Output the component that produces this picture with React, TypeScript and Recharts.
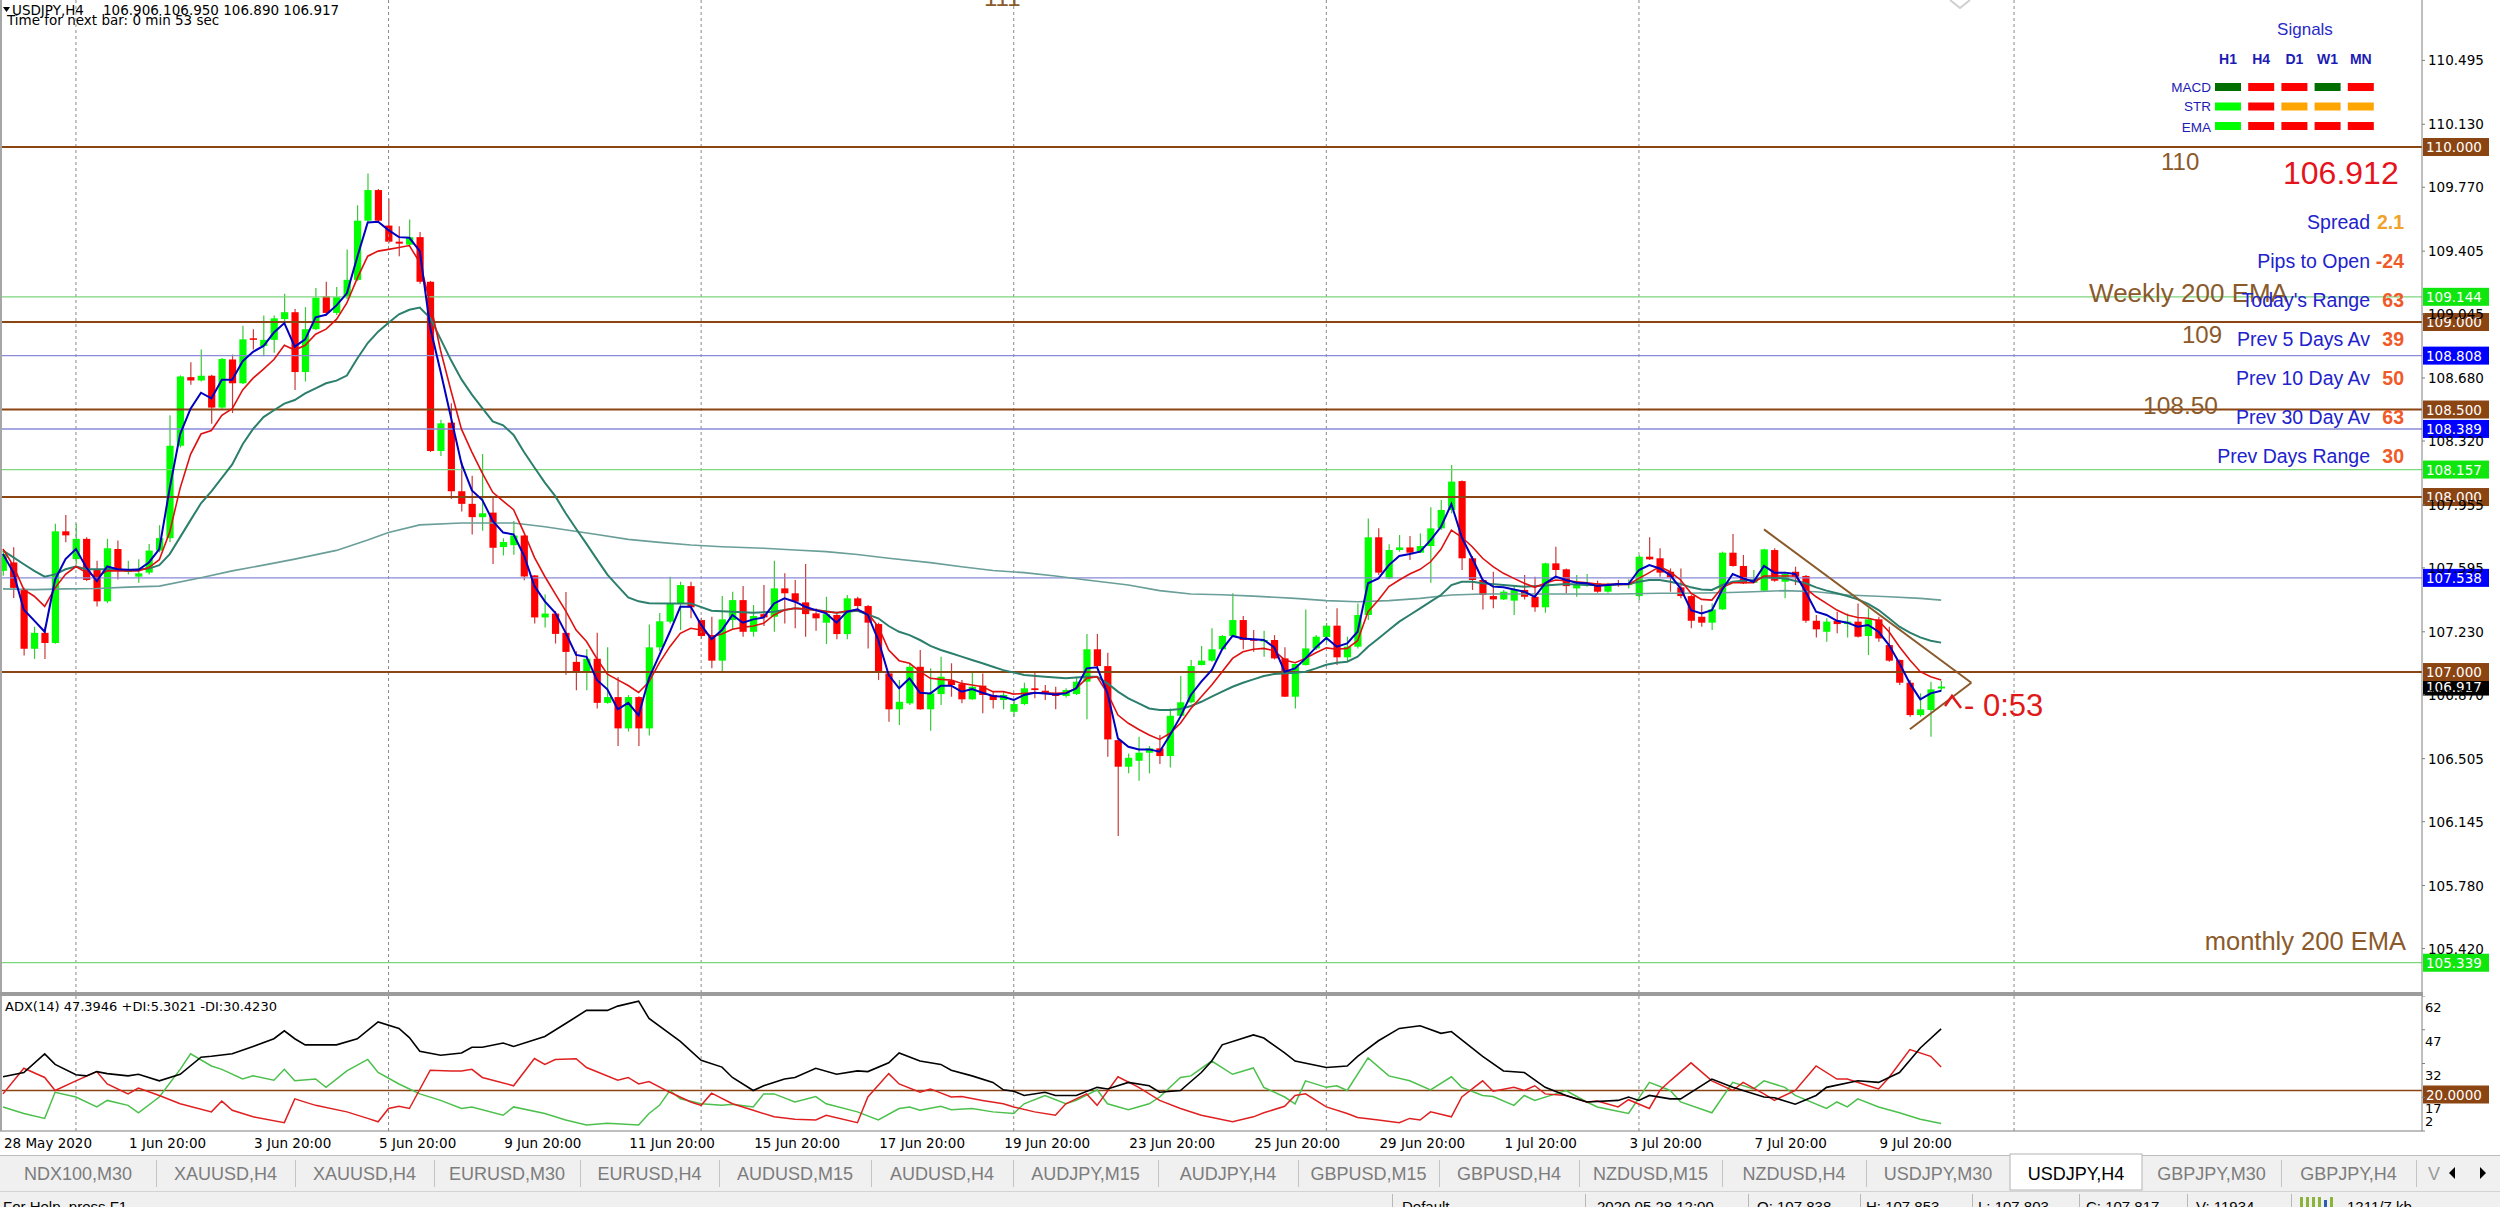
import React from 'react';
import { ComposedChart, Bar, Line, XAxis, YAxis, ReferenceLine } from 'recharts';

// USDJPY H4 candles, first visible bar 28 May 2020: [open, high, low, close]
const ohlc: [number, number, number, number][] = [
  // 0
  [107.578, 107.700, 107.550, 107.674], [107.626, 107.713, 107.423, 107.481], [107.471, 107.481, 107.095, 107.133],
  [107.133, 107.259, 107.075, 107.224], [107.224, 107.259, 107.075, 107.166], [107.166, 107.848, 107.162, 107.804],
  [107.804, 107.897, 107.742, 107.781], [107.645, 107.848, 107.616, 107.761], [107.761, 107.770, 107.520, 107.526],
  [107.587, 107.636, 107.375, 107.404],
  // 10
  [107.404, 107.761, 107.394, 107.707], [107.703, 107.752, 107.529, 107.578], [107.572, 107.636, 107.558, 107.587],
  [107.545, 107.645, 107.510, 107.564], [107.568, 107.732, 107.558, 107.694], [107.694, 107.839, 107.684, 107.765],
  [107.765, 108.467, 107.742, 108.293], [108.293, 108.695, 108.283, 108.689], [108.685, 108.770, 108.641, 108.666],
  [108.666, 108.843, 108.660, 108.693],
  // 20
  [108.693, 108.699, 108.418, 108.511], [108.511, 108.795, 108.505, 108.789], [108.786, 108.814, 108.480, 108.650],
  [108.650, 108.979, 108.646, 108.901], [108.907, 108.959, 108.843, 108.898], [108.863, 109.037, 108.805, 108.898],
  [108.898, 109.037, 108.824, 109.021], [109.017, 109.162, 108.998, 109.056], [109.056, 109.075, 108.612, 108.714],
  [108.714, 109.085, 108.660, 108.959],
  // 30
  [108.959, 109.195, 108.955, 109.139], [109.147, 109.230, 109.037, 109.052], [109.052, 109.200, 109.040, 109.142],
  [109.142, 109.415, 109.131, 109.241], [109.241, 109.667, 109.235, 109.579], [109.579, 109.848, 109.569, 109.754],
  [109.754, 109.760, 109.569, 109.579], [109.551, 109.704, 109.448, 109.459], [109.459, 109.547, 109.376, 109.448],
  [109.442, 109.586, 109.437, 109.485],
  // 40
  [109.485, 109.514, 109.219, 109.230], [109.230, 109.235, 108.257, 108.263], [108.263, 108.442, 108.235, 108.421],
  [108.425, 108.536, 107.990, 108.033], [108.033, 108.202, 107.918, 107.961], [107.961, 108.121, 107.786, 107.885],
  [107.885, 108.246, 107.808, 107.907], [107.911, 107.998, 107.618, 107.710], [107.714, 107.764, 107.666, 107.743],
  [107.725, 107.863, 107.670, 107.780],
  // 50
  [107.780, 107.786, 107.524, 107.546], [107.552, 107.555, 107.277, 107.312], [107.312, 107.443, 107.255, 107.334],
  [107.334, 107.349, 107.163, 107.218], [107.224, 107.458, 106.984, 107.115], [107.058, 107.119, 106.896, 106.999],
  [106.999, 107.130, 106.896, 107.076], [107.076, 107.224, 106.791, 106.824], [106.824, 107.141, 106.819, 106.857],
  [106.857, 106.971, 106.577, 106.678],
  // 60
  [106.678, 106.868, 106.660, 106.857], [106.857, 106.861, 106.577, 106.678], [106.678, 107.272, 106.638, 107.141],
  [107.141, 107.338, 107.119, 107.290], [107.288, 107.545, 107.278, 107.389], [107.389, 107.516, 107.240, 107.497],
  [107.491, 107.516, 107.307, 107.370], [107.297, 107.310, 107.190, 107.206], [107.211, 107.316, 107.021, 107.065],
  [107.065, 107.434, 107.002, 107.301],
  // 70
  [107.297, 107.459, 107.240, 107.411], [107.411, 107.491, 107.202, 107.230], [107.230, 107.383, 107.202, 107.320],
  [107.331, 107.497, 107.263, 107.312], [107.316, 107.636, 107.230, 107.478], [107.478, 107.564, 107.278, 107.450],
  [107.450, 107.526, 107.250, 107.402], [107.398, 107.617, 107.202, 107.331], [107.335, 107.364, 107.236, 107.307],
  [107.282, 107.430, 107.160, 107.331],
  // 80
  [107.326, 107.345, 107.187, 107.217], [107.217, 107.440, 107.187, 107.421], [107.421, 107.430, 107.345, 107.377],
  [107.377, 107.383, 107.135, 107.282], [107.274, 107.282, 106.954, 106.996], [106.992, 106.996, 106.716, 106.787],
  [106.787, 106.954, 106.697, 106.830], [106.821, 107.050, 106.811, 107.030], [107.030, 107.126, 106.785, 106.787],
  [106.787, 107.021, 106.665, 106.878],
  // 90
  [106.874, 107.088, 106.811, 106.973], [106.950, 107.050, 106.859, 106.926], [106.931, 106.954, 106.821, 106.844],
  [106.844, 106.996, 106.842, 106.916], [106.922, 106.992, 106.764, 106.869], [106.869, 106.888, 106.792, 106.840],
  [106.840, 106.888, 106.787, 106.869], [106.773, 106.840, 106.745, 106.817], [106.817, 106.939, 106.811, 106.907],
  [106.907, 107.002, 106.850, 106.897],
  // 100
  [106.893, 106.926, 106.840, 106.878], [106.874, 106.916, 106.787, 106.863], [106.863, 106.907, 106.855, 106.897],
  [106.874, 106.973, 106.869, 106.945], [106.945, 107.217, 106.730, 107.130], [107.130, 107.217, 107.021, 107.034],
  [107.034, 107.110, 106.516, 106.615], [106.611, 106.615, 106.063, 106.459], [106.459, 106.535, 106.421, 106.510],
  [106.493, 106.630, 106.379, 106.539],
  // 110
  [106.539, 106.577, 106.421, 106.564], [106.564, 106.640, 106.474, 106.520], [106.520, 106.792, 106.455, 106.750],
  [106.750, 106.977, 106.745, 106.827], [106.827, 107.069, 106.821, 107.034], [107.040, 107.149, 107.038, 107.065],
  [107.065, 107.250, 107.059, 107.130], [107.130, 107.211, 107.126, 107.206], [107.206, 107.450, 107.204, 107.297],
  [107.297, 107.320, 107.130, 107.183],
  // 120
  [107.187, 107.240, 107.116, 107.179], [107.179, 107.236, 107.088, 107.183], [107.183, 107.211, 107.072, 107.078],
  [107.078, 107.141, 106.857, 106.859], [106.859, 107.048, 106.792, 107.046], [107.040, 107.358, 107.038, 107.135],
  [107.135, 107.211, 107.126, 107.202], [107.200, 107.280, 107.170, 107.265], [107.265, 107.364, 107.040, 107.084],
  [107.084, 107.202, 107.060, 107.145],
  // 130
  [107.145, 107.392, 107.135, 107.326], [107.326, 107.878, 107.297, 107.770], [107.770, 107.821, 107.554, 107.568],
  [107.535, 107.730, 107.530, 107.697], [107.697, 107.783, 107.688, 107.712], [107.712, 107.777, 107.640, 107.682],
  [107.682, 107.792, 107.680, 107.720], [107.720, 107.941, 107.510, 107.821], [107.821, 107.983, 107.811, 107.926],
  [107.926, 108.183, 107.907, 108.088],
  // 140
  [108.091, 108.095, 107.583, 107.650], [107.650, 107.663, 107.469, 107.526], [107.526, 107.535, 107.358, 107.440],
  [107.434, 107.573, 107.364, 107.415], [107.415, 107.469, 107.411, 107.459], [107.408, 107.491, 107.326, 107.469],
  [107.469, 107.554, 107.415, 107.430], [107.430, 107.545, 107.345, 107.370], [107.370, 107.625, 107.339, 107.621],
  [107.621, 107.716, 107.535, 107.583],
  // 150
  [107.587, 107.592, 107.450, 107.491], [107.478, 107.554, 107.430, 107.497], [107.497, 107.560, 107.488, 107.507],
  [107.507, 107.522, 107.453, 107.459], [107.459, 107.510, 107.453, 107.503], [107.507, 107.526, 107.488, 107.501],
  [107.501, 107.530, 107.478, 107.505], [107.434, 107.669, 107.411, 107.659], [107.659, 107.770, 107.640, 107.644],
  [107.650, 107.707, 107.545, 107.568],
  // 160
  [107.573, 107.592, 107.459, 107.541], [107.484, 107.592, 107.421, 107.434], [107.434, 107.440, 107.250, 107.293],
  [107.316, 107.383, 107.259, 107.282], [107.282, 107.392, 107.240, 107.358], [107.358, 107.688, 107.354, 107.682],
  [107.682, 107.789, 107.602, 107.606], [107.606, 107.669, 107.503, 107.507], [107.510, 107.583, 107.507, 107.526],
  [107.465, 107.705, 107.459, 107.701],
  // 170
  [107.697, 107.707, 107.516, 107.522], [107.516, 107.573, 107.421, 107.560], [107.573, 107.602, 107.497, 107.545],
  [107.549, 107.554, 107.282, 107.293], [107.293, 107.326, 107.198, 107.244], [107.230, 107.307, 107.173, 107.288],
  [107.293, 107.345, 107.221, 107.274], [107.274, 107.335, 107.198, 107.288], [107.288, 107.392, 107.198, 107.202],
  [107.206, 107.364, 107.097, 107.301],
  // 180
  [107.301, 107.316, 107.173, 107.192], [107.154, 107.259, 107.059, 107.065], [107.069, 107.072, 106.926, 106.939],
  [106.939, 106.954, 106.745, 106.754], [106.754, 106.878, 106.745, 106.787], [106.783, 106.945, 106.630, 106.901],
  [106.906, 106.950, 106.890, 106.917],
];

// fast moving average (blue), one value per bar
const fastMa = [
  107.674, 107.568, 107.356, 107.294, 107.230, 107.529, 107.645, 107.703, 107.597, 107.520,
  107.603, 107.587, 107.584, 107.584, 107.626, 107.703, 108.051, 108.360, 108.505, 108.596,
  108.563, 108.670, 108.670, 108.776, 108.830, 108.863, 108.940, 108.994, 108.859, 108.901,
  109.027, 109.041, 109.095, 109.164, 109.372, 109.569, 109.573, 109.525, 109.485, 109.481,
  109.405, 108.967, 108.716, 108.453, 108.191, 108.038, 107.983, 107.863, 107.797, 107.786,
  107.666, 107.491, 107.404, 107.338, 107.224, 107.098, 107.087, 106.955, 106.901, 106.787,
  106.824, 106.752, 106.966, 107.098, 107.230, 107.373, 107.373, 107.269, 107.187, 107.240,
  107.326, 107.282, 107.301, 107.312, 107.392, 107.421, 107.402, 107.373, 107.354, 107.335,
  107.282, 107.345, 107.358, 107.326, 107.183, 106.983, 106.907, 106.964, 106.882, 106.878,
  106.922, 106.922, 106.888, 106.903, 106.882, 106.863, 106.859, 106.840, 106.869, 106.882,
  106.878, 106.872, 106.878, 106.907, 107.021, 107.027, 106.878, 106.621, 106.573, 106.558,
  106.558, 106.545, 106.640, 106.745, 106.869, 106.945, 107.011, 107.130, 107.206, 107.192,
  107.187, 107.183, 107.141, 107.002, 107.021, 107.078, 107.141, 107.195, 107.145, 107.164,
  107.230, 107.507, 107.535, 107.611, 107.663, 107.674, 107.688, 107.754, 107.830, 107.960,
  107.770, 107.650, 107.526, 107.488, 107.484, 107.472, 107.459, 107.430, 107.507, 107.545,
  107.526, 107.510, 107.507, 107.491, 107.497, 107.503, 107.503, 107.583, 107.611, 107.592,
  107.554, 107.478, 107.354, 107.335, 107.354, 107.472, 107.560, 107.535, 107.516, 107.606,
  107.568, 107.568, 107.560, 107.459, 107.345, 107.326, 107.293, 107.282, 107.259, 107.269,
  107.230, 107.154, 107.050, 106.935, 106.844, 106.878, 106.893,
];

// medium moving average (red), one value per bar
const midMa = [
  107.703, 107.607, 107.471, 107.433, 107.375, 107.481, 107.558, 107.603, 107.568, 107.545,
  107.578, 107.578, 107.578, 107.578, 107.597, 107.642, 107.800, 108.051, 108.244, 108.360,
  108.380, 108.467, 108.505, 108.612, 108.679, 108.731, 108.786, 108.867, 108.840, 108.867,
  108.930, 108.959, 109.015, 109.109, 109.251, 109.376, 109.405, 109.415, 109.426, 109.437,
  109.339, 109.109, 108.836, 108.606, 108.388, 108.257, 108.136, 108.027, 107.977, 107.928,
  107.797, 107.655, 107.546, 107.447, 107.349, 107.240, 107.174, 107.076, 106.988, 106.955,
  106.923, 106.883, 106.944, 107.054, 107.145, 107.221, 107.250, 107.240, 107.202, 107.217,
  107.244, 107.255, 107.263, 107.278, 107.326, 107.354, 107.364, 107.360, 107.354, 107.345,
  107.339, 107.349, 107.354, 107.335, 107.259, 107.126, 107.065, 107.050, 107.002, 106.964,
  106.958, 106.954, 106.935, 106.926, 106.916, 106.888, 106.888, 106.874, 106.878, 106.882,
  106.882, 106.878, 106.882, 106.907, 106.964, 106.973, 106.878, 106.754, 106.707, 106.672,
  106.640, 106.615, 106.650, 106.707, 106.792, 106.859, 106.926, 107.002, 107.078, 107.116,
  107.130, 107.135, 107.122, 107.069, 107.053, 107.078, 107.110, 107.138, 107.130, 107.135,
  107.179, 107.345, 107.411, 107.488, 107.526, 107.560, 107.587, 107.630, 107.701, 107.811,
  107.770, 107.716, 107.650, 107.602, 107.564, 107.535, 107.507, 107.484, 107.507, 107.526,
  107.522, 107.516, 107.510, 107.503, 107.501, 107.501, 107.501, 107.535, 107.568, 107.602,
  107.573, 107.526, 107.450, 107.415, 107.411, 107.484, 107.510, 107.510, 107.510, 107.549,
  107.549, 107.549, 107.549, 107.478, 107.430, 107.392, 107.354, 107.326, 107.312, 107.307,
  107.293, 107.230, 107.145, 107.069, 107.002, 106.973, 106.954,
];

// slow moving average (teal), [bar, value]
const slowMa: [number, number][] = [
  [0, 107.694], [1, 107.655], [2, 107.616], [3, 107.578], [4, 107.545], [5, 107.558], [6, 107.587], [7, 107.603],
  [8, 107.587], [10, 107.587], [12, 107.582], [14, 107.591], [15, 107.611], [16, 107.674], [17, 107.771],
  [18, 107.868], [19, 107.964], [20, 108.032], [21, 108.109], [22, 108.186], [23, 108.302], [24, 108.389],
  [25, 108.457], [26, 108.496], [27, 108.534], [28, 108.554], [29, 108.592], [30, 108.621], [31, 108.650],
  [32, 108.665], [33, 108.694], [34, 108.792], [35, 108.880], [36, 108.945], [37, 108.996], [38, 109.044],
  [39, 109.070], [40, 109.083], [41, 109.022], [42, 108.902], [43, 108.781], [44, 108.672], [45, 108.585],
  [46, 108.508], [47, 108.432], [48, 108.410], [49, 108.355], [50, 108.257], [51, 108.169], [52, 108.082],
  [53, 108.005], [54, 107.907], [55, 107.819], [56, 107.732], [57, 107.644], [58, 107.557], [59, 107.491],
  [60, 107.426], [61, 107.404], [62, 107.393], [64, 107.392], [66, 107.392], [68, 107.350], [70, 107.345],
  [72, 107.339], [74, 107.345], [76, 107.364], [78, 107.354], [80, 107.339], [82, 107.350], [84, 107.307],
  [85, 107.263], [86, 107.230], [87, 107.211], [88, 107.183], [89, 107.149], [90, 107.126], [91, 107.107],
  [92, 107.088], [93, 107.069], [94, 107.050], [95, 107.030], [96, 107.011], [98, 106.983], [100, 106.973],
  [102, 106.964], [104, 106.973], [105, 106.973], [106, 106.935], [107, 106.888], [108, 106.850], [109, 106.821],
  [110, 106.792], [111, 106.783], [112, 106.783], [113, 106.789], [114, 106.806], [115, 106.830], [116, 106.859],
  [117, 106.888], [118, 106.916], [119, 106.939], [120, 106.958], [121, 106.977], [122, 106.989], [124, 106.996],
  [125, 107.002], [126, 107.021], [127, 107.042], [128, 107.053], [129, 107.059], [130, 107.088], [131, 107.145],
  [132, 107.192], [133, 107.240], [134, 107.288], [135, 107.326], [136, 107.364], [137, 107.402], [138, 107.440],
  [139, 107.497], [140, 107.516], [141, 107.516], [142, 107.507], [144, 107.497], [146, 107.488], [148, 107.495],
  [150, 107.503], [152, 107.497], [154, 107.497], [156, 107.503], [157, 107.516], [158, 107.526], [159, 107.526],
  [160, 107.516], [161, 107.503], [162, 107.484], [163, 107.472], [164, 107.469], [165, 107.497], [166, 107.516],
  [167, 107.522], [168, 107.526], [169, 107.541], [171, 107.535], [173, 107.507], [174, 107.484], [175, 107.465],
  [176, 107.450], [177, 107.434], [178, 107.415], [179, 107.389], [180, 107.354], [181, 107.307], [182, 107.259],
  [183, 107.225], [184, 107.198], [185, 107.179], [186, 107.168],
];

// long moving average (grey-teal), [bar, value]
const longMa: [number, number][] = [
  [0, 107.475], [3, 107.471], [6, 107.475], [9, 107.477], [12, 107.485], [15, 107.491], [19, 107.539],
  [22, 107.578], [25, 107.611], [28, 107.645], [32, 107.695], [35, 107.754], [37, 107.797], [40, 107.841],
  [44, 107.852], [49, 107.852], [52, 107.830], [57, 107.786], [60, 107.758], [63, 107.741], [66, 107.726],
  [69, 107.716], [73, 107.707], [76, 107.697], [79, 107.688], [82, 107.672], [85, 107.650], [89, 107.625],
  [92, 107.602], [95, 107.580], [98, 107.568], [101, 107.549], [104, 107.526], [108, 107.497], [111, 107.465],
  [114, 107.446], [117, 107.442], [120, 107.434], [124, 107.421], [127, 107.408], [130, 107.402], [133, 107.408],
  [136, 107.421], [139, 107.440], [142, 107.446], [149, 107.446], [155, 107.446], [159, 107.450], [161, 107.450],
  [165, 107.453], [168, 107.459], [171, 107.465], [174, 107.459], [177, 107.440], [181, 107.430], [184, 107.421],
  [186, 107.411],
];

// ADX(14) panel, [bar, value]
const adxMain: [number, number][] = [
  [0, 26.1], [2, 28.0], [4, 36.3], [5, 31.6], [7, 27.0], [8, 26.5], [9, 28.4], [10, 27.5], [12, 26.5], [13, 27.2],
  [15, 24.3], [17, 27.2], [19, 34.8], [20, 35.2], [22, 36.3], [24, 39.6], [26, 43.0], [27, 46.5], [28, 43.0],
  [29, 40.3], [32, 40.3], [34, 43.0], [36, 50.5], [38, 47.6], [39, 43.5], [40, 37.4], [42, 35.7], [44, 36.7],
  [45, 39.2], [46, 39.2], [48, 41.1], [49, 39.6], [52, 44.0], [54, 49.8], [56, 55.6], [58, 55.6], [59, 57.5],
  [61, 59.7], [62, 52.0], [65, 41.8], [67, 33.4], [69, 30.4], [70, 25.8], [72, 20.0], [73, 22.1], [75, 25.1],
  [76, 25.8], [78, 29.9], [80, 27.2], [82, 28.7], [83, 28.4], [85, 32.3], [86, 36.7], [88, 33.1], [90, 31.6],
  [91, 29.0], [93, 26.5], [95, 23.6], [96, 20.3], [97, 19.7], [98, 17.8], [100, 19.2], [101, 17.8], [103, 17.8],
  [105, 21.4], [106, 20.7], [108, 23.6], [110, 22.1], [111, 19.2], [113, 20.0], [115, 28.0], [116, 33.1],
  [117, 40.3], [120, 44.7], [121, 43.3], [123, 36.7], [124, 33.1], [127, 30.2], [129, 30.9], [130, 35.2],
  [132, 42.1], [134, 47.6], [136, 48.8], [138, 45.4], [139, 46.2], [140, 42.5], [142, 35.2], [144, 28.7],
  [146, 28.0], [148, 21.4], [150, 17.8], [152, 14.9], [155, 15.6], [156, 17.1], [157, 15.6], [158, 17.8],
  [160, 16.3], [161, 16.3], [164, 25.1], [166, 21.4], [169, 17.1], [170, 16.8], [172, 13.9], [174, 17.8],
  [175, 21.4], [178, 24.3], [180, 23.6], [182, 28.0], [184, 38.9], [186, 47.4],
];
const plusDi: [number, number][] = [
  [0, 12.7], [2, 9.8], [4, 7.6], [5, 19.2], [7, 17.1], [9, 12.7], [10, 15.6], [12, 13.4], [13, 10.1], [15, 17.1],
  [17, 29.4], [18, 36.3], [20, 30.9], [21, 29.4], [23, 25.1], [24, 26.5], [26, 24.6], [27, 29.4], [28, 24.3],
  [30, 25.1], [31, 21.4], [33, 28.7], [35, 33.8], [36, 28.0], [38, 22.9], [40, 18.5], [42, 15.6], [44, 12.0],
  [45, 12.7], [48, 9.0], [49, 12.7], [52, 9.8], [54, 6.9], [56, 4.7], [58, 5.4], [61, 4.7], [62, 9.8], [63, 13.4],
  [64, 20.0], [65, 16.3], [67, 14.1], [69, 13.4], [70, 13.9], [72, 12.7], [73, 18.5], [74, 18.5], [76, 14.9],
  [78, 17.3], [79, 14.1], [82, 10.5], [84, 6.9], [86, 12.0], [87, 12.7], [88, 11.2], [90, 13.0], [91, 11.5],
  [93, 12.0], [95, 10.5], [97, 9.8], [98, 14.1], [100, 17.8], [102, 14.1], [103, 15.6], [105, 20.3], [106, 14.1],
  [108, 11.5], [110, 14.1], [111, 17.1], [113, 25.8], [114, 26.5], [116, 33.1], [118, 27.2], [120, 30.0],
  [121, 21.4], [123, 17.1], [124, 14.1], [125, 24.3], [127, 21.4], [128, 22.1], [129, 20.0], [131, 34.5],
  [133, 26.5], [135, 24.3], [137, 20.3], [139, 26.1], [140, 21.4], [142, 17.8], [143, 17.3], [145, 13.4],
  [146, 17.8], [147, 15.6], [149, 18.5], [150, 20.0], [152, 14.9], [153, 12.7], [156, 9.8], [158, 23.6],
  [160, 20.0], [161, 14.9], [164, 10.1], [166, 23.6], [168, 20.7], [169, 24.3], [171, 21.4], [172, 17.8],
  [175, 12.0], [176, 14.9], [177, 12.7], [178, 16.3], [180, 12.7], [182, 10.1], [184, 7.2], [186, 5.3],
];
const minusDi: [number, number][] = [
  [0, 18.5], [2, 29.9], [4, 25.8], [5, 20.0], [7, 24.3], [9, 28.4], [10, 22.9], [12, 18.5], [13, 21.1], [15, 17.8],
  [17, 14.1], [20, 10.5], [21, 15.3], [22, 11.2], [24, 8.3], [27, 5.7], [28, 16.3], [30, 13.4], [33, 10.5],
  [35, 7.6], [36, 6.1], [37, 12.0], [38, 13.0], [39, 12.0], [41, 29.0], [43, 28.7], [44, 28.7], [45, 29.4],
  [46, 25.8], [49, 22.1], [51, 34.2], [52, 31.6], [53, 33.8], [55, 34.1], [56, 30.2], [59, 24.6], [60, 25.8],
  [61, 22.9], [62, 24.0], [64, 19.2], [66, 14.9], [67, 13.4], [68, 18.8], [70, 14.1], [72, 11.2], [74, 8.3],
  [76, 7.2], [78, 6.9], [79, 9.0], [82, 5.7], [83, 17.1], [85, 27.5], [86, 22.9], [88, 19.2], [89, 20.7],
  [91, 17.1], [92, 17.3], [94, 15.6], [96, 14.1], [97, 12.7], [99, 10.5], [101, 9.0], [102, 14.1], [104, 18.5],
  [105, 13.4], [107, 26.1], [109, 21.4], [111, 15.6], [113, 12.0], [115, 9.0], [118, 6.1], [120, 8.3], [121, 10.1],
  [123, 13.0], [124, 17.8], [125, 18.5], [127, 12.7], [129, 9.8], [130, 8.0], [132, 6.9], [134, 5.7], [135, 7.6],
  [136, 6.9], [137, 10.5], [139, 8.3], [140, 17.1], [142, 24.3], [143, 19.7], [145, 21.4], [146, 20.0],
  [147, 22.1], [148, 18.5], [150, 17.8], [152, 14.9], [153, 15.3], [155, 12.7], [156, 15.9], [158, 12.0],
  [159, 20.0], [160, 24.3], [162, 32.3], [164, 24.3], [166, 20.0], [167, 23.6], [169, 18.5], [170, 15.6],
  [172, 20.0], [174, 30.9], [176, 25.1], [177, 25.1], [179, 22.1], [180, 20.7], [181, 25.8], [183, 38.2],
  [185, 35.2], [186, 30.4],
];

const roundLevels = [110, 109, 108.5, 108, 107];
const emaLevels = [109.144, 108.157, 105.339];
const pivotLevels = [108.808, 108.389, 107.538];
const bidPrice = 106.917;
const adxLevel = 20;

// falling wedge drawn on the last bars: [bar, price]
const wedgeTop: [number, number][] = [[169.0, 107.815], [188.9, 106.939]];
const wedgeBottom: [number, number][] = [[183.0, 106.673], [188.9, 106.939]];

const priceTicks = [110.495, 110.13, 109.77, 109.405, 109.045, 108.68, 108.32, 107.955, 107.595, 107.23, 106.87, 106.505, 106.145, 105.78, 105.42];
const adxTicks = [62, 47, 32, 17, 2];
const dateTicks: [number, string][] = [
  [0, '28 May 2020'], [12, '1 Jun 20:00'], [24, '3 Jun 20:00'], [36, '5 Jun 20:00'], [48, '9 Jun 20:00'],
  [60, '11 Jun 20:00'], [72, '15 Jun 20:00'], [84, '17 Jun 20:00'], [96, '19 Jun 20:00'], [108, '23 Jun 20:00'],
  [120, '25 Jun 20:00'], [132, '29 Jun 20:00'], [144, '1 Jul 20:00'], [156, '3 Jul 20:00'], [168, '7 Jul 20:00'],
  [180, '9 Jul 20:00'],
];
const gridBars = [7, 37, 67, 97, 127, 157, 193];

const signalFrames = ['H1', 'H4', 'D1', 'W1', 'MN'];
const signalRows: [string, string[]][] = [
  ['MACD', ['#006f00', '#ff0000', '#ff0000', '#006f00', '#ff0000']],
  ['STR', ['#00ff00', '#ff0000', '#ffa500', '#ffa500', '#ffa500']],
  ['EMA', ['#00ff00', '#ff0000', '#ff0000', '#ff0000', '#ff0000']],
];
const infoRows: [string, string][] = [
  ['Spread', '2.1'], ['Pips to Open', '-24'], ["Today's Range", '63'], ['Prev 5 Days Av', '39'],
  ['Prev 10 Day Av', '50'], ['Prev 30 Day Av', '63'], ['Prev Days Range', '30'],
];
const tabNames = [
  'NDX100,M30', 'XAUUSD,H4', 'XAUUSD,H4', 'EURUSD,M30', 'EURUSD,H4', 'AUDUSD,M15', 'AUDUSD,H4', 'AUDJPY,M15',
  'AUDJPY,H4', 'GBPUSD,M15', 'GBPUSD,H4', 'NZDUSD,M15', 'NZDUSD,H4', 'USDJPY,M30', 'USDJPY,H4', 'GBPJPY,M30',
  'GBPJPY,H4',
];
const statusItems = ['For Help, press F1', 'Default', '2020.05.28 12:00', 'O: 107.838', 'H: 107.853', 'L: 107.803', 'C: 107.817', 'V: 11934', '1211/7 kb'];

// layout
const W = 2500;
const H = 1207;
const MAIN_H = 993;
const ADX_TOP = 996;
const ADX_H = 159;
const AXIS_W = 78;
const X_MIN = -0.288;
const X_MAX = 232.15;
const P_MIN = 105.166;
const P_MAX = 110.84;
const TAB_EDGES = [0, 156, 295, 434, 580, 719, 871, 1013, 1158, 1298, 1439, 1579, 1722, 1866, 2010, 2142, 2281, 2416];
const ACTIVE_TAB = 14;
const STATUS_X = [3, 1402, 1597, 1757, 1866, 1978, 2086, 2196, 2347];
const STATUS_SEP = [1392, 1585, 1748, 1860, 1972, 2079, 2187, 2291];

const BROWN = '#8b4513';
const NOTE = '#8b5a2b';
const UI = "'DejaVu Sans', sans-serif";
const ARIAL = "'Liberation Sans', Arial, sans-serif";

type Row = { i: number; o?: number; h?: number; l?: number; c?: number; range?: [number, number]; fast?: number; mid?: number; slow?: number; long?: number };
const rows: Row[] = ohlc.map(([o, h, l, c], i) => ({ i, o, h, l, c, range: [l, h], fast: fastMa[i], mid: midMa[i] }));
slowMa.forEach(([i, v]) => { rows[i].slow = v; });
longMa.forEach(([i, v]) => { rows[i].long = v; });

type AdxRow = { i: number; adx?: number; plus?: number; minus?: number };
const adxRows: AdxRow[] = ohlc.map((_, i) => ({ i }));
adxMain.forEach(([i, v]) => { adxRows[i].adx = v; });
plusDi.forEach(([i, v]) => { adxRows[i].plus = v; });
minusDi.forEach(([i, v]) => { adxRows[i].minus = v; });

const Candle = (props: any) => {
  const { x, y, width, height, payload } = props;
  if (!payload || x == null) return null;
  const top = Math.min(y, y + height);
  const span = Math.abs(height);
  const { o, h, l, c } = payload;
  const k = h === l ? 0 : span / (h - l);
  const yo = top + (h - o) * k;
  const yc = top + (h - c) * k;
  const up = c >= o;
  const cx = x + width / 2;
  return (
    <g>
      <line x1={cx} x2={cx} y1={top} y2={top + span} stroke={up ? '#39c839' : '#c83c3c'} strokeWidth={1.2} />
      <rect x={cx - 3.6} y={Math.min(yo, yc)} width={7.2} height={Math.max(1.5, Math.abs(yo - yc))} fill={up ? '#00ff00' : '#ff0000'} />
    </g>
  );
};

type Note = { text: string; dx: number; dy: number; size: number; anchor?: 'start' | 'end' };
const Tag = (props: any) => {
  const { viewBox, text, bg, shift = 0, note } = props;
  if (!viewBox) return null;
  const right = viewBox.x + viewBox.width;
  const y = viewBox.y + shift;
  const n: Note | undefined = note;
  return (
    <g>
      {n && (
        <text x={right + n.dx} y={viewBox.y + n.dy} fontSize={n.size} fontFamily={ARIAL} fill={NOTE} textAnchor={n.anchor || 'start'}>
          {n.text}
        </text>
      )}
      <rect x={right + 1} y={y - 9} width={66} height={18} fill={bg} />
      <text x={right + 4} y={y + 5} fontSize={13.5} fontFamily={UI} fill="#fff">{text}</text>
    </g>
  );
};

const notes: Record<string, Note> = {
  '110': { text: '110', dx: -261, dy: 23, size: 24 },
  '109': { text: '109', dx: -240, dy: 21, size: 24 },
  '108.5': { text: '108.50', dx: -279, dy: 4, size: 24.5 },
  '109.144': { text: 'Weekly 200 EMA', dx: -134, dy: 5, size: 26, anchor: 'end' },
  '105.339': { text: 'monthly 200 EMA', dx: -16, dy: -13, size: 25.5, anchor: 'end' },
};

const PriceTick = (props: any) => (
  <text x={props.x} y={props.y + 5} fontSize={13.5} fontFamily={UI} fill="#000" textAnchor="start">
    {Number(props.payload.value).toFixed(3)}
  </text>
);

const AdxTick = (props: any) => (
  <text x={props.x} y={Math.min(props.y + 16, 130)} fontSize={13} fontFamily={UI} fill="#000" textAnchor="start">
    {props.payload.value}
  </text>
);

const DateTick = (props: any) => {
  const hit = dateTicks.find(d => d[0] === props.payload.value);
  return (
    <text x={props.x + 1} y={props.y + 17} fontSize={13.5} fontFamily={UI} fill="#000" textAnchor="start">
      {hit ? hit[1] : ''}
    </text>
  );
};

const Overlay = () => (
  <svg width={W} height={H} style={{ position: 'absolute', left: 0, top: 0, pointerEvents: 'none' }}>
    {/* frame and pane splitter */}
    <rect x={0} y={0} width={2} height={1131} fill="#a6a6a6" />
    <rect x={0} y={992} width={2423} height={4} fill="#9c9c9c" />

    {/* chart header */}
    <path d="M3,7 L10,7 L6.5,12 Z" fill="#000" />
    <text x={12} y={15} fontSize={13.5} fontFamily={UI} fill="#000">USDJPY,H4</text>
    <text x={103} y={15} fontSize={13.5} fontFamily={UI} fill="#000">106.906 106.950 106.890 106.917</text>
    <text x={7} y={25} fontSize={13.5} fontFamily={UI} fill="#000">Time for next bar: 0 min 53 sec</text>
    <text x={984} y={6} fontSize={24} fontFamily={ARIAL} fill={NOTE}>111</text>
    <polyline points="1950,0 1960,8 1970,0" fill="none" stroke="#cfcfcf" strokeWidth={2} />

    {/* signals panel */}
    <text x={2305} y={35} fontSize={17} fontFamily={ARIAL} fill="#2a2ac8" textAnchor="middle">Signals</text>
    {signalFrames.map((f, k) => (
      <text key={f} x={2228 + k * 33.2} y={64} fontSize={14} fontWeight="bold" fontFamily={ARIAL} fill="#1c1cb4" textAnchor="middle">{f}</text>
    ))}
    {signalRows.map(([name, cols], r) => (
      <g key={name}>
        <text x={2211} y={[92, 111, 132][r]} fontSize={13.5} fontFamily={ARIAL} fill="#1c1cb4" textAnchor="end">{name}</text>
        {cols.map((col, k) => (
          <rect key={k} x={2215 + k * 33.2} y={83 + r * 19.5} width={26} height={8} fill={col} />
        ))}
      </g>
    ))}

    {/* price read-out */}
    <text x={2283} y={184} fontSize={32} fontFamily={ARIAL} fill="#e5141c">106.912</text>
    {infoRows.map(([label, value], r) => (
      <g key={label}>
        <text x={2370} y={229 + r * 39} fontSize={19.5} fontFamily={ARIAL} fill="#2222cc" textAnchor="end">{label}</text>
        <text x={2404} y={229 + r * 39} fontSize={19.5} fontWeight="bold" fontFamily={ARIAL} fill={r === 0 ? '#f0a22a' : '#f05a28'} textAnchor="end">{value}</text>
      </g>
    ))}

    {/* bar timer */}
    <path d="M1945,706 L1952,696 L1961,708" fill="none" stroke="#e01818" strokeWidth={2.5} />
    <text x={1964} y={716} fontSize={31} fontFamily={ARIAL} fill="#e01818">- 0:53</text>

    {/* ADX caption */}
    <text x={5} y={1011} fontSize={13} fontFamily={UI} fill="#000">ADX(14) 47.3946 +DI:5.3021 -DI:30.4230</text>

    {/* symbol tabs */}
    <rect x={0} y={1155} width={W} height={36} fill="#f0f0f0" />
    <line x1={0} x2={W} y1={1155.5} y2={1155.5} stroke="#bdbdbd" />
    {tabNames.map((t, k) => {
      const x0 = TAB_EDGES[k];
      const x1 = TAB_EDGES[k + 1];
      const active = k === ACTIVE_TAB;
      return (
        <g key={k}>
          {active && <rect x={x0} y={1154} width={x1 - x0} height={36} fill="#fff" stroke="#b4b4b4" />}
          {!active && k + 1 !== ACTIVE_TAB && <line x1={x1 + 0.5} x2={x1 + 0.5} y1={1160} y2={1187} stroke="#c4c4c4" />}
          <text x={(x0 + x1) / 2} y={1180} fontSize={18} fontFamily={ARIAL} fill={active ? '#000' : '#7c7c7c'} textAnchor="middle">{t}</text>
        </g>
      );
    })}
    <text x={2428} y={1180} fontSize={18} fontFamily={ARIAL} fill="#9a9a9a">V</text>
    <rect x={2442} y={1158} width={58} height={30} fill="#f0f0f0" />
    <path d="M2455,1167 L2449,1173 L2455,1179 Z" fill="#000" />
    <path d="M2480,1167 L2486,1173 L2480,1179 Z" fill="#000" />

    {/* status bar */}
    <rect x={0} y={1191} width={W} height={16} fill="#f0f0f0" />
    <line x1={0} x2={W} y1={1191.5} y2={1191.5} stroke="#d4d4d4" />
    {STATUS_SEP.map(s => <line key={s} x1={s + 0.5} x2={s + 0.5} y1={1194} y2={1207} stroke="#b8b8b8" />)}
    {statusItems.map((t, k) => (
      <text key={k} x={STATUS_X[k]} y={1212} fontSize={15} fontFamily={ARIAL} fill="#000">{t}</text>
    ))}
    <rect x={2300} y={1197} width={3} height={10} fill="#8cb43c" />
    <rect x={2306} y={1197} width={3} height={10} fill="#8cb43c" />
    <rect x={2312} y={1197} width={3} height={10} fill="#8cb43c" />
    <rect x={2318} y={1197} width={3} height={10} fill="#8cb43c" />
    <rect x={2324} y={1200} width={3} height={7} fill="#2d5fb0" />
    <rect x={2330} y={1197} width={3} height={10} fill="#8cb43c" />
  </svg>
);

export default function App() {
  return (
    <div style={{ position: 'absolute', left: 0, top: 0, width: W, height: H, overflow: 'hidden', background: '#fff' }}>
      <div style={{ position: 'absolute', left: 0, top: 0 }}>
        <ComposedChart width={W} height={MAIN_H} data={rows} margin={{ top: 0, right: 0, bottom: 0, left: 0 }}>
          <XAxis type="number" dataKey="i" domain={[X_MIN, X_MAX]} allowDataOverflow hide />
          <YAxis
            orientation="right"
            type="number"
            domain={[P_MIN, P_MAX]}
            allowDataOverflow
            ticks={priceTicks}
            interval={0}
            width={AXIS_W}
            tick={<PriceTick />}
            tickSize={3}
            tickMargin={3}
            axisLine={{ stroke: '#7f7f7f' }}
            tickLine={{ stroke: '#7f7f7f' }}
          />
          {gridBars.map(g => (
            <ReferenceLine key={`g${g}`} x={g} stroke="#8a8a8a" strokeDasharray="3 3" />
          ))}
          {emaLevels.map(p => (
            <ReferenceLine key={`e${p}`} y={p} stroke="#7cd67c" strokeWidth={1.2}
              label={<Tag text={p.toFixed(3)} bg="#0ee60e" note={notes[String(p)]} />} />
          ))}
          {pivotLevels.map(p => (
            <ReferenceLine key={`p${p}`} y={p} stroke="#8a8ad8" strokeWidth={1.4}
              label={<Tag text={p.toFixed(3)} bg="#0000ff" />} />
          ))}
          <ReferenceLine y={bidPrice} stroke="none" strokeOpacity={0} label={<Tag text={bidPrice.toFixed(3)} bg="#000" />} />
          {roundLevels.map(p => (
            <ReferenceLine key={`r${p}`} y={p} stroke={BROWN} strokeWidth={2}
              label={<Tag text={p.toFixed(3)} bg={BROWN} note={notes[String(p)]} />} />
          ))}
          <Bar dataKey="range" barSize={7} shape={<Candle />} isAnimationActive={false} />
          <Line dataKey="long" stroke="#6a9e98" strokeWidth={1.6} dot={false} activeDot={false} connectNulls isAnimationActive={false} />
          <Line dataKey="slow" stroke="#2c7f6c" strokeWidth={2} dot={false} activeDot={false} connectNulls isAnimationActive={false} />
          <Line dataKey="mid" stroke="#e01010" strokeWidth={1.6} dot={false} activeDot={false} connectNulls isAnimationActive={false} />
          <Line dataKey="fast" stroke="#0000c0" strokeWidth={2} dot={false} activeDot={false} connectNulls isAnimationActive={false} />
          <ReferenceLine segment={wedgeTop.map(([x, y]) => ({ x, y }))} stroke="#8b5a2b" strokeWidth={2} />
          <ReferenceLine segment={wedgeBottom.map(([x, y]) => ({ x, y }))} stroke="#8b5a2b" strokeWidth={2} />
        </ComposedChart>
      </div>
      <div style={{ position: 'absolute', left: 0, top: ADX_TOP }}>
        <ComposedChart width={W} height={ADX_H} data={adxRows} margin={{ top: 0, right: 0, bottom: 0, left: 0 }}>
          <XAxis
            type="number"
            dataKey="i"
            domain={[X_MIN, X_MAX]}
            allowDataOverflow
            ticks={dateTicks.map(d => d[0])}
            interval={0}
            height={24}
            tick={<DateTick />}
            tickLine={false}
            tickSize={0}
            tickMargin={0}
            axisLine={{ stroke: '#7f7f7f' }}
          />
          <YAxis
            orientation="right"
            type="number"
            domain={[2, 62]}
            allowDataOverflow
            ticks={adxTicks}
            interval={0}
            width={AXIS_W}
            tick={<AdxTick />}
            tickSize={3}
            tickMargin={0}
            axisLine={{ stroke: '#7f7f7f' }}
            tickLine={{ stroke: '#7f7f7f' }}
          />
          {gridBars.map(g => (
            <ReferenceLine key={`ag${g}`} x={g} stroke="#8a8a8a" strokeDasharray="3 3" />
          ))}
          <ReferenceLine y={adxLevel} stroke={BROWN} strokeWidth={1.5} label={<Tag text="20.0000" bg={BROWN} shift={4} />} />
          <Line dataKey="plus" stroke="#4cc04c" strokeWidth={1.5} dot={false} activeDot={false} connectNulls isAnimationActive={false} />
          <Line dataKey="minus" stroke="#e02020" strokeWidth={1.5} dot={false} activeDot={false} connectNulls isAnimationActive={false} />
          <Line dataKey="adx" stroke="#000" strokeWidth={1.6} dot={false} activeDot={false} connectNulls isAnimationActive={false} />
        </ComposedChart>
      </div>
      <Overlay />
    </div>
  );
}
